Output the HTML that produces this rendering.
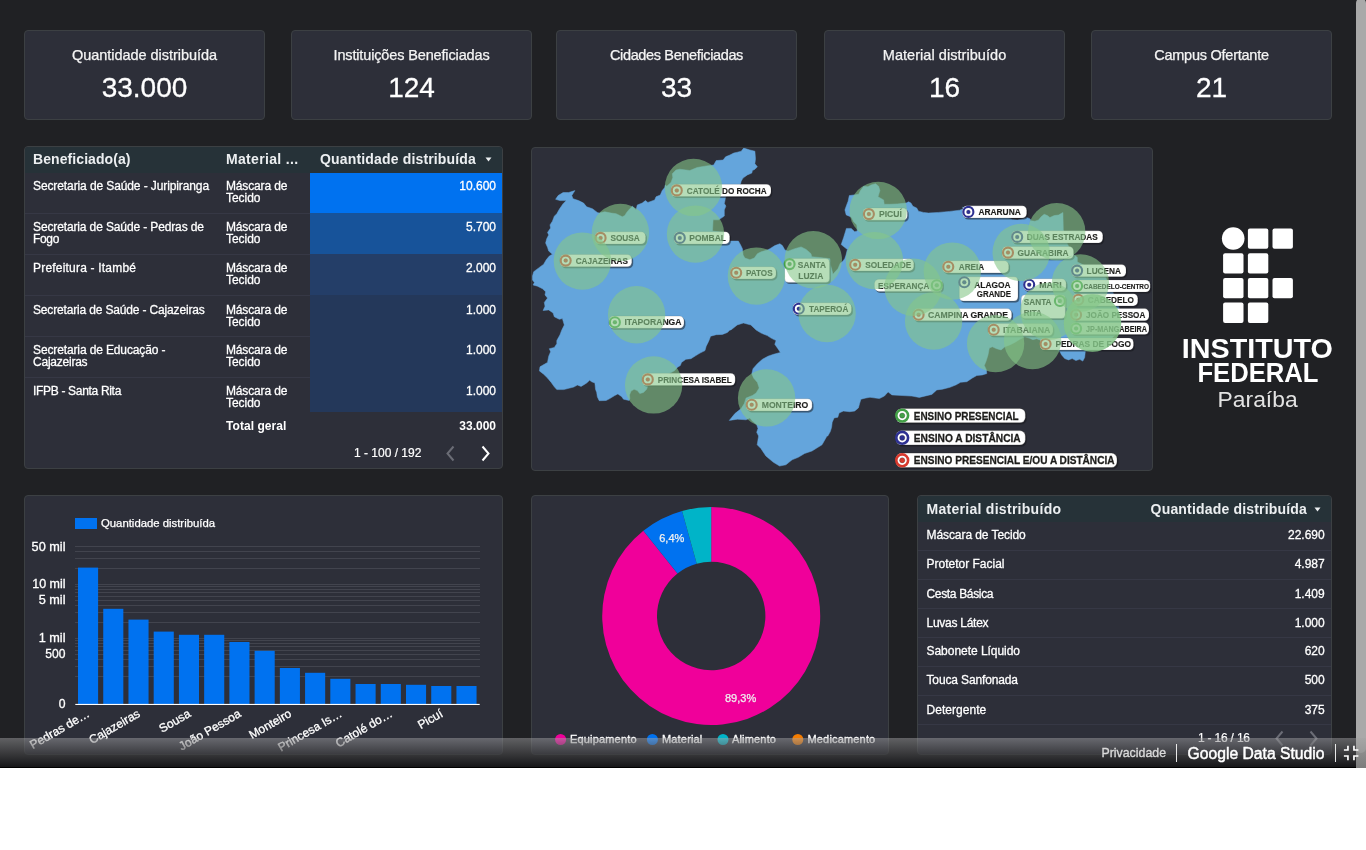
<!DOCTYPE html><html lang="pt-BR"><head><meta charset="utf-8"><title>IFPB - Painel de doações</title><style>
*{box-sizing:border-box;margin:0;padding:0}
html,body{width:1366px;height:850px;overflow:hidden;background:#fff;font-family:"Liberation Sans",sans-serif;}
#dash{position:absolute;left:0;top:0;width:1366px;height:768px;background:#202124;overflow:hidden}
.card{position:absolute;background:#2d2f39;border:1px solid #3c4043;border-radius:4px;overflow:hidden}
.kpi .t{position:absolute;left:0;right:0;top:16px;text-align:center;color:#f4f4f4;font-size:14.5px;line-height:16px;letter-spacing:-0.05px;-webkit-text-stroke:.25px #f4f4f4}
.kpi .v{position:absolute;left:0;right:0;top:41px;text-align:center;color:#fff;font-size:28px;line-height:32px;-webkit-text-stroke:.3px #fff}
#sb{position:absolute;left:1356px;top:-2px;width:10px;height:770px;background:#a9a9a9;border-radius:5px 5px 0 0}
#bar{position:absolute;left:0;top:738px;width:1366px;height:30px;border-bottom:1px solid #000;background:linear-gradient(to bottom,rgba(169,169,171,.47) 0%,rgba(21,21,23,.9) 100%)}
svg{position:absolute;left:0;top:0;overflow:visible}
svg text{font-family:"Liberation Sans",sans-serif}
</style></head><body>
<div id="dash">
<div class="card kpi" style="left:24px;top:30px;width:241px;height:90px"><div class="t" style="letter-spacing:-0.041px">Quantidade distribuída</div><div class="v">33.000</div></div>
<div class="card kpi" style="left:291px;top:30px;width:241px;height:90px"><div class="t" style="letter-spacing:-0.144px">Instituições Beneficiadas</div><div class="v">124</div></div>
<div class="card kpi" style="left:556px;top:30px;width:241px;height:90px"><div class="t" style="letter-spacing:-0.363px">Cidades Beneficiadas</div><div class="v">33</div></div>
<div class="card kpi" style="left:824px;top:30px;width:241px;height:90px"><div class="t" style="letter-spacing:0.05px">Material distribuído</div><div class="v">16</div></div>
<div class="card kpi" style="left:1091px;top:30px;width:241px;height:90px"><div class="t" style="letter-spacing:-0.249px">Campus Ofertante</div><div class="v">21</div></div>
<style>#t1{left:24px;top:146px;width:479px;height:323px;color:#fff;font-size:12px;line-height:12px}#t1 .h{position:absolute;left:0;top:0;width:479px;height:26px;background:#263238;font-weight:700;font-size:14px;line-height:16px;color:#eceff1}#t1 .h span{position:absolute;top:4px;white-space:nowrap}#t1 .r{position:absolute;left:0;width:479px;border-top:1px solid #363845}#t1 .r div{position:absolute;top:6px;white-space:nowrap;-webkit-text-stroke:.28px #fff}#t1 .q{left:285px;top:-1px !important;width:193px;text-align:right;padding:7px 7px 0 0}</style><div class="card" id="t1"><div class="h"><span style="left:8px;letter-spacing:0.081px">Beneficiado(a)</span><span style="left:201px;letter-spacing:0.328px">Material ...</span><span style="left:295px;letter-spacing:0.161px">Quantidade distribuída</span><svg style="left:460px;top:10px" width="8" height="6"><path d="M0.5 0.5h6l-3 4z" fill="#eceff1"/></svg></div><div class="r" style="top:26px;height:40px;border-top-color:transparent"><div style="left:8px;top:6px"><span style="letter-spacing:-0.104px">Secretaria de Saúde - Juripiranga</span></div><div style="left:201px;top:6px"><span style="letter-spacing:-0.15px">Máscara de</span><br><span style="letter-spacing:-0.048px">Tecido</span></div><div class="q" style="background:#0072f0;height:40px;padding-top:7px">10.600</div></div><div class="r" style="top:66px;height:41px"><div style="left:8px;top:7px"><span style="letter-spacing:-0.128px">Secretaria de Saúde - Pedras de</span><br><span style="letter-spacing:-0.34px">Fogo</span></div><div style="left:201px;top:7px"><span style="letter-spacing:-0.15px">Máscara de</span><br><span style="letter-spacing:-0.048px">Tecido</span></div><div class="q" style="background:#17539a;height:41px;padding-top:8px">5.700</div></div><div class="r" style="top:107px;height:41px"><div style="left:8px;top:7px"><span style="letter-spacing:0.201px">Prefeitura - Itambé</span></div><div style="left:201px;top:7px"><span style="letter-spacing:-0.15px">Máscara de</span><br><span style="letter-spacing:-0.048px">Tecido</span></div><div class="q" style="background:#243e68;height:41px;padding-top:8px">2.000</div></div><div class="r" style="top:148px;height:41px"><div style="left:8px;top:8px"><span style="letter-spacing:-0.161px">Secretaria de Saúde - Cajazeiras</span></div><div style="left:201px;top:8px"><span style="letter-spacing:-0.15px">Máscara de</span><br><span style="letter-spacing:-0.048px">Tecido</span></div><div class="q" style="background:#24385a;height:41px;padding-top:9px">1.000</div></div><div class="r" style="top:189px;height:41px"><div style="left:8px;top:7px"><span style="letter-spacing:-0.126px">Secretaria de Educação -</span><br><span style="letter-spacing:-0.23px">Cajazeiras</span></div><div style="left:201px;top:7px"><span style="letter-spacing:-0.15px">Máscara de</span><br><span style="letter-spacing:-0.048px">Tecido</span></div><div class="q" style="background:#24385a;height:41px;padding-top:8px">1.000</div></div><div class="r" style="top:230px;height:35px"><div style="left:8px;top:7px"><span style="letter-spacing:-0.316px">IFPB - Santa Rita</span></div><div style="left:201px;top:7px"><span style="letter-spacing:-0.15px">Máscara de</span><br><span style="letter-spacing:-0.048px">Tecido</span></div><div class="q" style="background:#24385a;height:35px;padding-top:8px">1.000</div></div><div style="position:absolute;left:201px;top:273px;font-weight:700"><span style="letter-spacing:0.055px">Total geral</span></div><div style="position:absolute;left:285px;width:186px;top:273px;font-weight:700;text-align:right">33.000</div><div style="position:absolute;left:329px;top:300px;white-space:nowrap;-webkit-text-stroke:.2px #fff">1 - 100 / 192</div><svg style="left:415px;top:296px" width="70" height="22"><path d="M13.500 3.500l-6 7 6 7" fill="none" stroke="#6a6c75" stroke-width="2"/><path d="M42.500 3.500l6 7-6 7" fill="none" stroke="#fff" stroke-width="2"/></svg></div>
<div class="card" style="left:531px;top:147px;width:622px;height:324px"></div><svg width="1366" height="768" viewBox="0 0 1366 768"><defs><clipPath id="mc"><rect x="532" y="148" width="620" height="322" rx="3"/></clipPath></defs><g clip-path="url(#mc)"><path d="M532.5 276.0L533.7 271.7L538.7 267.9L543.7 264.2L546.2 259.8L549.3 256.1L552.4 254.2L548.7 251.1L547.5 247.3L545.6 243.0L546.8 238.6L548.7 234.9L547.5 232.4L550.6 228.0L550.0 224.9L552.4 221.2L554.3 216.2L556.8 213.7L559.3 209.3L563.1 203.7L566.2 200.6L559.9 200.6L555.6 199.3L558.1 195.6L563.1 192.5L568.7 192.5L574.9 190.6L571.8 195.6L573.0 198.7L578.6 200.6L583.6 203.1L586.7 206.8L592.4 208.7L597.3 212.4L599.2 213.1L604.8 211.8L611.1 213.1L616.1 213.7L619.8 215.5L622.3 216.8L624.8 215.5L626.7 212.4L629.8 208.7L632.5 206.2L636.0 209.9L637.3 204.9L642.2 203.1L645.4 200.6L647.9 202.4L654.7 200.0L656.0 196.8L660.3 195.0L662.2 190.6L664.7 187.5L665.3 185.0L666.8 186.2L671.0 182.4L672.8 177.5L672.3 173.7L676.0 170.0L679.8 169.2L689.8 170.5L697.2 167.5L704.7 166.2L713.7 165.0L716.2 160.6L723.1 160.0L725.6 156.8L729.9 155.0L733.7 153.1L737.4 152.2L741.2 151.2L743.7 148.1L749.9 150.0L754.9 151.2L755.5 158.7L754.9 163.7L757.4 166.8L754.9 169.3L752.4 170.6L751.8 173.1L747.4 174.9L743.0 178.1L741.2 181.2L740.5 183.9L725.6 196.8L724.9 201.1L724.3 203.6L725.9 206.1L724.3 209.9L724.3 216.1L720.6 218.6L718.7 219.8L713.1 219.8L712.5 231.1L723.7 232.3L729.7 241.1L738.4 241.1L740.6 245.0L742.4 248.7L743.1 255.0L744.9 258.1L749.9 259.7L754.3 258.1L757.4 253.7L761.2 251.8L767.4 250.0L769.9 248.7L774.9 245.6L779.9 243.7L782.4 245.6L784.9 250.0L788.0 251.2L794.8 248.7L801.1 246.9L806.1 249.4L811.0 253.7L811.7 256.8L819.8 257.5L829.8 258.7L830.4 264.9L832.2 271.2L832.9 274.3L837.9 268.7L840.4 263.1L842.8 261.2L844.7 258.7L846.0 255.0L847.2 250.0L847.7 249.8L841.2 244.6L843.7 237.3L846.4 228.4L851.2 228.4L854.7 231.7L857.4 230.9L856.8 224.9L853.7 221.8L851.8 218.0L850.6 216.8L846.2 214.9L844.9 209.9L846.2 206.2L848.1 201.2L849.3 195.6L854.3 194.9L858.7 194.3L860.5 190.6L863.7 186.2L868.0 186.8L871.1 185.0L875.5 183.7L878.6 186.2L879.9 190.6L878.0 196.8L883.6 199.9L884.2 204.3L889.8 204.3L897.3 203.9L906.1 203.1L908.6 201.8L911.0 203.1L912.9 206.2L916.7 208.0L918.5 211.2L923.5 212.4L928.5 213.0L938.5 212.4L949.7 211.4L959.7 210.2L963.4 208.7L962.5 207.2L1009.9 218.4L1012.4 219.6L1017.3 220.0L1023.6 218.7L1026.7 217.5L1029.8 218.7L1030.7 220.0L1029.9 220.6L1034.9 221.2L1038.6 220.0L1041.1 216.8L1044.2 214.3L1047.4 215.6L1049.9 217.5L1054.2 215.6L1058.6 215.0L1062.9 212.5L1063.3 229.9L1067.3 243.7L1072.3 253.6L1077.3 257.4L1077.3 262.4L1077.3 262.0L1090.0 268.0L1105.0 276.0L1112.0 290.0L1118.0 305.0L1122.0 318.0L1118.0 332.0L1105.0 345.0L1090.0 350.0L1085.3 351.2L1084.7 357.4L1082.8 361.1L1079.7 359.3L1075.9 360.5L1072.2 358.6L1068.5 359.9L1064.7 358.6L1061.6 354.9L1059.7 351.2L1039.8 339.9L1036.7 338.7L1032.9 339.7L1029.2 338.1L1024.8 336.8L1019.8 339.3L1014.8 342.4L1009.8 344.9L1004.9 346.8L1001.1 349.9L996.7 348.7L992.4 346.8L989.3 348.0L988.0 354.9L986.1 361.1L984.3 365.5L986.4 369.9L986.8 373.6L982.4 374.9L976.8 375.5L972.4 378.0L966.8 381.7L960.6 382.3L956.2 384.8L950.0 387.3L942.5 389.2L936.8 389.9L931.8 394.4L919.3 397.4L911.9 396.1L891.9 394.9L888.1 391.9L884.4 396.1L879.4 398.6L870.0 397.3L865.9 398.0L860.9 399.2L859.6 403.6L858.4 407.9L854.7 411.1L849.7 411.7L843.4 411.1L839.1 412.9L837.8 417.3L834.1 417.9L832.2 422.3L831.6 427.3L830.3 431.6L827.8 436.0L827.0 436.0L822.0 444.8L812.0 451.0L804.6 453.5L798.3 457.3L792.1 459.8L785.9 464.8L779.6 466.0L773.4 462.3L765.9 456.0L760.9 448.5L757.2 444.8L758.4 437.3L758.6 436.0L756.7 432.3L758.0 428.5L756.7 424.8L751.8 420.4L749.9 417.9L746.1 419.8L737.4 419.2L729.3 420.4L734.9 413.6L741.2 408.6L744.3 403.6L746.1 398.0L752.4 395.5L756.1 393.0L759.2 388.0L757.4 382.4L753.6 378.0L751.8 373.7L753.0 368.7L757.4 363.7L762.4 359.3L768.0 356.2L773.6 354.3L780.4 352.4L777.9 348.7L774.8 344.3L776.1 340.6L771.1 338.1L767.3 335.6L761.1 333.1L756.1 330.0L750.9 325.0L743.4 323.0L737.2 325.0L730.9 330.0L729.9 330.0L727.4 332.5L722.4 334.4L716.2 334.7L710.6 336.2L708.7 341.2L706.2 346.2L705.0 350.6L700.0 353.1L695.9 355.6L690.9 358.7L685.9 359.3L681.5 362.4L680.3 365.6L677.2 367.4L674.7 370.6L647.9 385.5L646.6 389.3L643.5 392.4L639.8 393.6L637.3 390.5L634.1 389.3L631.0 391.1L629.5 394.9L629.8 398.6L629.2 400.5L623.5 399.2L621.7 396.7L617.9 393.9L614.8 395.5L609.8 398.6L606.1 400.5L599.2 400.7L597.3 396.7L596.7 392.4L595.5 389.3L594.9 383.0L591.7 381.8L589.6 380.2L586.7 383.0L583.6 384.9L581.1 386.4L577.4 385.1L573.7 387.1L569.9 388.0L563.7 389.6L556.8 389.6L554.3 386.8L551.2 382.4L547.5 378.0L543.7 374.3L539.4 370.9L540.0 366.8L544.3 364.3L547.5 362.4L548.7 356.2L550.6 351.8L549.3 348.7L554.3 347.5L556.8 343.7L556.8 340.5L559.9 334.9L561.8 329.9L564.3 324.9L562.4 318.6L559.3 319.3L554.3 316.8L553.1 313.0L548.7 309.9L543.1 310.5L545.0 306.2L544.3 302.4L547.5 298.1L545.0 294.9L545.6 291.8L542.5 288.7L537.5 286.2L533.1 285.0L534.4 282.5L532.5 280.0Z" fill="#64a5dc" stroke="#64a5dc" stroke-width="0.5" stroke-linejoin="round"/><g font-weight="700" fill="#1d1d1b" font-size="9.600" stroke="#1d1d1b" stroke-width=".15"><rect x="672.3" y="185.8" width="100.0" height="12.2" rx="4.5" fill="#14151b" opacity=".5"/><rect x="671.0" y="184.3" width="100.0" height="12.2" rx="4.5" fill="#fff"/><circle cx="676.8" cy="190.4" r="5.0" fill="#fff" stroke="#d8392d" stroke-width="2.1"/><circle cx="676.8" cy="190.4" r="2.0" fill="#d8392d"/><text x="686.8" y="193.6" textLength="79.8" lengthAdjust="spacingAndGlyphs">CATOLÉ DO ROCHA</text><rect x="596.3" y="233.3" width="50.6" height="12.2" rx="4.5" fill="#14151b" opacity=".5"/><rect x="595.0" y="231.8" width="50.6" height="12.2" rx="4.5" fill="#fff"/><circle cx="600.6" cy="237.9" r="5.0" fill="#fff" stroke="#d8392d" stroke-width="2.1"/><circle cx="600.6" cy="237.9" r="2.0" fill="#d8392d"/><text x="610.4" y="241.1" textLength="29.4" lengthAdjust="spacingAndGlyphs">SOUSA</text><rect x="675.3" y="233.3" width="55.7" height="12.2" rx="4.5" fill="#14151b" opacity=".5"/><rect x="674.0" y="231.8" width="55.7" height="12.2" rx="4.5" fill="#fff"/><circle cx="679.8" cy="237.9" r="5.0" fill="#fff" stroke="#2e3192" stroke-width="2.1"/><circle cx="679.8" cy="237.9" r="2.0" fill="#2e3192"/><text x="689.3" y="241.1" textLength="36.7" lengthAdjust="spacingAndGlyphs">POMBAL</text><rect x="561.3" y="256.0" width="71.8" height="12.2" rx="4.5" fill="#14151b" opacity=".5"/><rect x="560.0" y="254.5" width="71.8" height="12.2" rx="4.5" fill="#fff"/><circle cx="565.7" cy="260.6" r="5.0" fill="#fff" stroke="#d8392d" stroke-width="2.1"/><circle cx="565.7" cy="260.6" r="2.0" fill="#d8392d"/><text x="575.7" y="263.8" textLength="52.2" lengthAdjust="spacingAndGlyphs">CAJAZEIRAS</text><rect x="731.8" y="268.2" width="45.5" height="12.2" rx="4.5" fill="#14151b" opacity=".5"/><rect x="730.5" y="266.7" width="45.5" height="12.2" rx="4.5" fill="#fff"/><circle cx="736.2" cy="272.8" r="5.0" fill="#fff" stroke="#d8392d" stroke-width="2.1"/><circle cx="736.2" cy="272.8" r="2.0" fill="#d8392d"/><text x="745.9" y="276.0" textLength="26.7" lengthAdjust="spacingAndGlyphs">PATOS</text><rect x="794.3" y="304.2" width="58.5" height="12.2" rx="4.5" fill="#14151b" opacity=".5"/><rect x="793.0" y="302.7" width="58.5" height="12.2" rx="4.5" fill="#fff"/><circle cx="798.8" cy="308.8" r="5.0" fill="#fff" stroke="#2e3192" stroke-width="2.1"/><circle cx="798.8" cy="308.8" r="2.0" fill="#2e3192"/><text x="809.1" y="312.0" textLength="39.2" lengthAdjust="spacingAndGlyphs">TAPEROÁ</text><rect x="610.3" y="317.6" width="75.0" height="12.2" rx="4.5" fill="#14151b" opacity=".5"/><rect x="609.0" y="316.1" width="75.0" height="12.2" rx="4.5" fill="#fff"/><circle cx="614.9" cy="322.2" r="5.0" fill="#fff" stroke="#43a047" stroke-width="2.1"/><circle cx="614.9" cy="322.2" r="2.0" fill="#43a047"/><text x="624.4" y="325.4" textLength="57.1" lengthAdjust="spacingAndGlyphs">ITAPORANGA</text><rect x="643.3" y="374.8" width="93.2" height="12.2" rx="4.5" fill="#14151b" opacity=".5"/><rect x="642.0" y="373.3" width="93.2" height="12.2" rx="4.5" fill="#fff"/><circle cx="647.8" cy="379.4" r="5.0" fill="#fff" stroke="#d8392d" stroke-width="2.1"/><circle cx="647.8" cy="379.4" r="2.0" fill="#d8392d"/><text x="657.8" y="382.6" textLength="73.9" lengthAdjust="spacingAndGlyphs">PRINCESA ISABEL</text><rect x="747.3" y="400.2" width="66.1" height="12.2" rx="4.5" fill="#14151b" opacity=".5"/><rect x="746.0" y="398.7" width="66.1" height="12.2" rx="4.5" fill="#fff"/><circle cx="751.7" cy="404.8" r="5.0" fill="#fff" stroke="#d8392d" stroke-width="2.1"/><circle cx="751.7" cy="404.8" r="2.0" fill="#d8392d"/><text x="761.7" y="408.0" textLength="46.6" lengthAdjust="spacingAndGlyphs">MONTEIRO</text><rect x="864.3" y="209.5" width="44.4" height="12.2" rx="4.5" fill="#14151b" opacity=".5"/><rect x="863.0" y="208.0" width="44.4" height="12.2" rx="4.5" fill="#fff"/><circle cx="868.9" cy="214.1" r="5.0" fill="#fff" stroke="#d8392d" stroke-width="2.1"/><circle cx="868.9" cy="214.1" r="2.0" fill="#d8392d"/><text x="878.9" y="217.3" textLength="23.0" lengthAdjust="spacingAndGlyphs">PICUÍ</text><rect x="963.8" y="207.3" width="64.2" height="12.2" rx="4.5" fill="#14151b" opacity=".5"/><rect x="962.5" y="205.8" width="64.2" height="12.2" rx="4.5" fill="#fff"/><circle cx="968.4" cy="211.9" r="5.0" fill="#fff" stroke="#2e3192" stroke-width="2.1"/><circle cx="968.4" cy="211.9" r="2.0" fill="#2e3192"/><text x="978.4" y="215.1" textLength="42.4" lengthAdjust="spacingAndGlyphs">ARARUNA</text><rect x="1012.8" y="232.3" width="91.3" height="12.2" rx="4.5" fill="#14151b" opacity=".5"/><rect x="1011.5" y="230.8" width="91.3" height="12.2" rx="4.5" fill="#fff"/><circle cx="1017.2" cy="236.9" r="5.0" fill="#fff" stroke="#2e3192" stroke-width="2.1"/><circle cx="1017.2" cy="236.9" r="2.0" fill="#2e3192"/><text x="1026.7" y="240.1" textLength="71.1" lengthAdjust="spacingAndGlyphs">DUAS ESTRADAS</text><rect x="1003.3" y="248.0" width="71.6" height="12.2" rx="4.5" fill="#14151b" opacity=".5"/><rect x="1002.0" y="246.5" width="71.6" height="12.2" rx="4.5" fill="#fff"/><circle cx="1008" cy="252.6" r="5.0" fill="#fff" stroke="#d8392d" stroke-width="2.1"/><circle cx="1008" cy="252.6" r="2.0" fill="#d8392d"/><text x="1017.4" y="255.8" textLength="51.2" lengthAdjust="spacingAndGlyphs">GUARABIRA</text><rect x="850.8" y="260.2" width="64.3" height="12.2" rx="4.5" fill="#14151b" opacity=".5"/><rect x="849.5" y="258.7" width="64.3" height="12.2" rx="4.5" fill="#fff"/><circle cx="855.2" cy="264.8" r="5.0" fill="#fff" stroke="#d8392d" stroke-width="2.1"/><circle cx="855.2" cy="264.8" r="2.0" fill="#d8392d"/><text x="865.2" y="268.0" textLength="46.1" lengthAdjust="spacingAndGlyphs">SOLEDADE</text><rect x="943.8" y="262.2" width="66.2" height="12.2" rx="4.5" fill="#14151b" opacity=".5"/><rect x="942.5" y="260.7" width="66.2" height="12.2" rx="4.5" fill="#fff"/><circle cx="948.3" cy="266.8" r="5.0" fill="#fff" stroke="#d8392d" stroke-width="2.1"/><circle cx="948.3" cy="266.8" r="2.0" fill="#d8392d"/><text x="958.8" y="270.0" textLength="25.4" lengthAdjust="spacingAndGlyphs">AREIA</text><rect x="1024.8" y="280.2" width="42.6" height="12.2" rx="4.5" fill="#14151b" opacity=".5"/><rect x="1023.5" y="278.7" width="42.6" height="12.2" rx="4.5" fill="#fff"/><circle cx="1029.2" cy="284.8" r="5.0" fill="#fff" stroke="#2e3192" stroke-width="2.1"/><circle cx="1029.2" cy="284.8" r="2.0" fill="#2e3192"/><text x="1039.2" y="288.0" textLength="22.4" lengthAdjust="spacingAndGlyphs">MARI</text><rect x="1072.8" y="266.0" width="54.5" height="12.2" rx="4.5" fill="#14151b" opacity=".5"/><rect x="1071.5" y="264.5" width="54.5" height="12.2" rx="4.5" fill="#fff"/><circle cx="1077.1" cy="270.6" r="5.0" fill="#fff" stroke="#2e3192" stroke-width="2.1"/><circle cx="1077.1" cy="270.6" r="2.0" fill="#2e3192"/><text x="1086.6" y="273.8" textLength="34.4" lengthAdjust="spacingAndGlyphs">LUCENA</text><rect x="1073.8" y="295.2" width="65.3" height="12.2" rx="4.5" fill="#14151b" opacity=".5"/><rect x="1072.5" y="293.7" width="65.3" height="12.2" rx="4.5" fill="#fff"/><circle cx="1078.3" cy="299.8" r="5.0" fill="#fff" stroke="#d8392d" stroke-width="2.1"/><circle cx="1078.3" cy="299.8" r="2.0" fill="#d8392d"/><text x="1087.8" y="303.0" textLength="46.2" lengthAdjust="spacingAndGlyphs">CABEDELO</text><rect x="1071.8" y="310.1" width="78.5" height="12.2" rx="4.5" fill="#14151b" opacity=".5"/><rect x="1070.5" y="308.6" width="78.5" height="12.2" rx="4.5" fill="#fff"/><circle cx="1076.1" cy="314.7" r="5.0" fill="#fff" stroke="#d8392d" stroke-width="2.1"/><circle cx="1076.1" cy="314.7" r="2.0" fill="#d8392d"/><text x="1086.1" y="317.9" textLength="59.2" lengthAdjust="spacingAndGlyphs">JOÃO PESSOA</text><rect x="1071.8" y="323.9" width="78.5" height="12.2" rx="4.5" fill="#14151b" opacity=".5"/><rect x="1070.5" y="322.4" width="78.5" height="12.2" rx="4.5" fill="#fff"/><circle cx="1076.1" cy="328.5" r="5.0" fill="#fff" stroke="#43a047" stroke-width="2.1"/><circle cx="1076.1" cy="328.5" r="2.0" fill="#43a047"/><text x="1086.1" y="331.7" textLength="60.9" lengthAdjust="spacingAndGlyphs">JP-MANGABEIRA</text><rect x="914.3" y="310.1" width="98.7" height="12.2" rx="4.5" fill="#14151b" opacity=".5"/><rect x="913.0" y="308.6" width="98.7" height="12.2" rx="4.5" fill="#fff"/><circle cx="918.6" cy="314.7" r="5.0" fill="#fff" stroke="#d8392d" stroke-width="2.1"/><circle cx="918.6" cy="314.7" r="2.0" fill="#d8392d"/><text x="928.1" y="317.9" textLength="79.9" lengthAdjust="spacingAndGlyphs">CAMPINA GRANDE</text><rect x="989.3" y="325.1" width="65.0" height="12.2" rx="4.5" fill="#14151b" opacity=".5"/><rect x="988.0" y="323.6" width="65.0" height="12.2" rx="4.5" fill="#fff"/><circle cx="993.7" cy="329.7" r="5.0" fill="#fff" stroke="#d8392d" stroke-width="2.1"/><circle cx="993.7" cy="329.7" r="2.0" fill="#d8392d"/><text x="1003.0" y="332.9" textLength="47.4" lengthAdjust="spacingAndGlyphs">ITABAIANA</text><rect x="1041.3" y="339.4" width="93.5" height="12.2" rx="4.5" fill="#14151b" opacity=".5"/><rect x="1040.0" y="337.9" width="93.5" height="12.2" rx="4.5" fill="#fff"/><circle cx="1045.6" cy="344" r="5.0" fill="#fff" stroke="#d8392d" stroke-width="2.1"/><circle cx="1045.6" cy="344" r="2.0" fill="#d8392d"/><text x="1055.4" y="347.2" textLength="75.6" lengthAdjust="spacingAndGlyphs">PEDRAS DE FOGO</text><rect x="785.9" y="259.9" width="45.0" height="24.0" rx="4" fill="#14151b" opacity=".5"/><rect x="784.6" y="258.4" width="45.0" height="24.0" rx="4" fill="#fff"/><circle cx="789.6" cy="264.1" r="5.0" fill="#fff" stroke="#43a047" stroke-width="2.1"/><circle cx="789.6" cy="264.1" r="2.0" fill="#43a047"/><text x="797.8" y="267.5" textLength="28.2" lengthAdjust="spacingAndGlyphs">SANTA</text><text x="798.3" y="278.8" textLength="25.0" lengthAdjust="spacingAndGlyphs">LUZIA</text><rect x="875.7" y="280.7" width="68.1" height="12.2" rx="4.5" fill="#14151b" opacity=".5"/><rect x="874.4" y="279.2" width="68.1" height="12.2" rx="4.5" fill="#fff"/><text x="878.1" y="288.5" textLength="51.2" lengthAdjust="spacingAndGlyphs">ESPERANÇA</text><circle cx="936.8" cy="285.3" r="5.0" fill="#fff" stroke="#43a047" stroke-width="2.1"/><circle cx="936.8" cy="285.3" r="2.0" fill="#43a047"/><rect x="960.6" y="278.3" width="58.7" height="24.2" rx="4" fill="#14151b" opacity=".5"/><rect x="959.3" y="276.8" width="58.7" height="24.2" rx="4" fill="#fff"/><circle cx="964.3" cy="282.3" r="5.0" fill="#fff" stroke="#2e3192" stroke-width="2.1"/><circle cx="964.3" cy="282.3" r="2.0" fill="#2e3192"/><text x="974.3" y="287.5" textLength="36.2" lengthAdjust="spacingAndGlyphs">ALAGOA</text><text x="976.8" y="297.3" textLength="34.2" lengthAdjust="spacingAndGlyphs">GRANDE</text><rect x="1022.5" y="296.3" width="44.2" height="23.7" rx="4" fill="#14151b" opacity=".5"/><rect x="1021.2" y="294.8" width="44.2" height="23.7" rx="4" fill="#fff"/><text x="1023.7" y="304.5" textLength="27.9" lengthAdjust="spacingAndGlyphs">SANTA</text><text x="1023.7" y="315.5" textLength="18.0" lengthAdjust="spacingAndGlyphs">RITA</text><circle cx="1059.9" cy="301" r="5.0" fill="#fff" stroke="#43a047" stroke-width="2.1"/><circle cx="1059.9" cy="301" r="2.0" fill="#43a047"/><rect x="1072.8" y="281.4" width="78.7" height="12.2" rx="4.5" fill="#14151b" opacity=".5"/><rect x="1071.5" y="279.9" width="78.7" height="12.2" rx="4.5" fill="#fff"/><circle cx="1077.1" cy="286" r="5.0" fill="#fff" stroke="#43a047" stroke-width="2.1"/><circle cx="1077.1" cy="286" r="2.0" fill="#43a047"/><text x="1083.6" y="288.8" textLength="65.4" lengthAdjust="spacingAndGlyphs" font-size="8">CABEDELO-CENTRO</text></g><g fill="#85c689" fill-opacity=".6"><circle cx="693.5" cy="187.4" r="28.7"/><circle cx="620.4" cy="232.4" r="28.7"/><circle cx="695.5" cy="234.1" r="28.7"/><circle cx="582.4" cy="261.1" r="28.7"/><circle cx="756.4" cy="276.1" r="28.7"/><circle cx="813.3" cy="259.8" r="28.7"/><circle cx="827.1" cy="313.5" r="28.7"/><circle cx="636.6" cy="314.7" r="28.7"/><circle cx="653.6" cy="384.9" r="28.7"/><circle cx="766.6" cy="397.9" r="28.7"/><circle cx="878.2" cy="210.4" r="28.7"/><circle cx="874.4" cy="260.6" r="28.7"/><circle cx="913.1" cy="287.3" r="28.7"/><circle cx="952.3" cy="271.1" r="28.7"/><circle cx="933.6" cy="321" r="28.7"/><circle cx="1021.2" cy="252.4" r="28.7"/><circle cx="1056.7" cy="231.8" r="28.7"/><circle cx="1080.4" cy="283" r="28.7"/><circle cx="1048.9" cy="311.2" r="28.7"/><circle cx="1032.6" cy="340.5" r="28.7"/><circle cx="995.6" cy="343.6" r="28.7"/><circle cx="1092.5" cy="323" r="28.7"/><circle cx="1092.5" cy="323" r="28.7"/></g><g font-weight="700" fill="#1d1d1b" font-size="11.800" stroke="#1d1d1b" stroke-width=".3"><rect x="897.3" y="409.9" width="129.4" height="14.4" rx="5.5" fill="#14151b" opacity=".5"/><rect x="896.0" y="408.4" width="129.4" height="14.4" rx="5.5" fill="#fff"/><circle cx="902.2" cy="415.6" r="5.9" fill="#fff" stroke="#43a047" stroke-width="2.6"/><circle cx="902.2" cy="415.6" r="2.6" fill="#43a047"/><text x="913.8" y="419.7" textLength="104.9" lengthAdjust="spacingAndGlyphs">ENSINO PRESENCIAL</text><rect x="897.3" y="432.1" width="129.4" height="14.4" rx="5.5" fill="#14151b" opacity=".5"/><rect x="896.0" y="430.6" width="129.4" height="14.4" rx="5.5" fill="#fff"/><circle cx="902.2" cy="437.8" r="5.9" fill="#fff" stroke="#2e3192" stroke-width="2.6"/><circle cx="902.2" cy="437.8" r="2.6" fill="#2e3192"/><text x="913.8" y="441.9" textLength="106.9" lengthAdjust="spacingAndGlyphs">ENSINO A DISTÂNCIA</text><rect x="897.3" y="454.6" width="221.0" height="14.4" rx="5.5" fill="#14151b" opacity=".5"/><rect x="896.0" y="453.1" width="221.0" height="14.4" rx="5.5" fill="#fff"/><circle cx="902.2" cy="460.3" r="5.9" fill="#fff" stroke="#d8392d" stroke-width="2.6"/><circle cx="902.2" cy="460.3" r="2.6" fill="#d8392d"/><text x="913.8" y="464.4" textLength="200.7" lengthAdjust="spacingAndGlyphs">ENSINO PRESENCIAL E/OU A DISTÂNCIA</text></g></g></svg>
<svg width="1366" height="768" viewBox="0 0 1366 768" style="pointer-events:none"><g fill="#fff"><circle cx="1233.2" cy="238.5" r="11.3"/><rect x="1247.9" y="228.4" width="20.4" height="20.4" rx="2"/><rect x="1272.5" y="228.4" width="20.4" height="20.4" rx="2"/><rect x="1223.1" y="253.2" width="20.4" height="20.4" rx="2"/><rect x="1247.9" y="253.2" width="20.4" height="20.4" rx="2"/><rect x="1223.1" y="277.9" width="20.4" height="20.4" rx="2"/><rect x="1247.9" y="277.9" width="20.4" height="20.4" rx="2"/><rect x="1272.5" y="277.9" width="20.4" height="20.4" rx="2"/><rect x="1223.1" y="302.5" width="20.4" height="20.4" rx="2"/><rect x="1247.9" y="302.5" width="20.4" height="20.4" rx="2"/></g><text x="1257.3" y="357.8" text-anchor="middle" font-size="27" font-weight="700" fill="#fff" textLength="151" lengthAdjust="spacingAndGlyphs">INSTITUTO</text><text x="1257.9" y="381.9" text-anchor="middle" font-size="27" font-weight="700" fill="#fff" textLength="121" lengthAdjust="spacingAndGlyphs">FEDERAL</text><text x="1257.6" y="407" text-anchor="middle" font-size="21.5" fill="#e2e2e2" textLength="80" lengthAdjust="spacingAndGlyphs">Paraíba</text></svg>
<div class="card" style="left:24px;top:495px;width:479px;height:260px"></div>
<svg width="1366" height="768" viewBox="0 0 1366 768"><g stroke="#42444e" stroke-width="1" shape-rendering="crispEdges"><line x1="75.3" x2="479.7" y1="676.5" y2="676.5"/><line x1="75.3" x2="479.7" y1="666.5" y2="666.5"/><line x1="75.3" x2="479.7" y1="659.5" y2="659.5"/><line x1="75.3" x2="479.7" y1="654.5" y2="654.5"/><line x1="75.3" x2="479.7" y1="650.5" y2="650.5"/><line x1="75.3" x2="479.7" y1="646.5" y2="646.5"/><line x1="75.3" x2="479.7" y1="643.5" y2="643.5"/><line x1="75.3" x2="479.7" y1="640.5" y2="640.5"/><line x1="75.3" x2="479.7" y1="638.5" y2="638.5"/><line x1="75.3" x2="479.7" y1="622.5" y2="622.5"/><line x1="75.3" x2="479.7" y1="612.5" y2="612.5"/><line x1="75.3" x2="479.7" y1="605.5" y2="605.5"/><line x1="75.3" x2="479.7" y1="600.5" y2="600.5"/><line x1="75.3" x2="479.7" y1="596.5" y2="596.5"/><line x1="75.3" x2="479.7" y1="592.5" y2="592.5"/><line x1="75.3" x2="479.7" y1="589.5" y2="589.5"/><line x1="75.3" x2="479.7" y1="586.5" y2="586.5"/><line x1="75.3" x2="479.7" y1="584.5" y2="584.5"/><line x1="75.3" x2="479.7" y1="568.5" y2="568.5"/><line x1="75.3" x2="479.7" y1="558.5" y2="558.5"/><line x1="75.3" x2="479.7" y1="551.5" y2="551.5"/><line x1="75.3" x2="479.7" y1="546.5" y2="546.5"/></g><rect x="75" y="518" width="22" height="11" fill="#0072f0"/><text x="101" y="527" font-size="11" fill="#fff" stroke="#fff" stroke-width=".25" textLength="114" lengthAdjust="spacingAndGlyphs">Quantidade distribuída</text><text x="31.6" y="551.0999999999999" font-size="12" fill="#fff" stroke="#fff" stroke-width=".3" textLength="33.9" lengthAdjust="spacingAndGlyphs">50 mil</text><text x="32.2" y="588.3" font-size="12" fill="#fff" stroke="#fff" stroke-width=".3" textLength="33.3" lengthAdjust="spacingAndGlyphs">10 mil</text><text x="38.7" y="604.3" font-size="12" fill="#fff" stroke="#fff" stroke-width=".3" textLength="26.8" lengthAdjust="spacingAndGlyphs">5 mil</text><text x="38.7" y="642.3" font-size="12" fill="#fff" stroke="#fff" stroke-width=".3" textLength="26.8" lengthAdjust="spacingAndGlyphs">1 mil</text><text x="45.3" y="658.3" font-size="12" fill="#fff" stroke="#fff" stroke-width=".3" textLength="20.2" lengthAdjust="spacingAndGlyphs">500</text><text x="58.7" y="708.3" font-size="12" fill="#fff" stroke="#fff" stroke-width=".3" textLength="6.8" lengthAdjust="spacingAndGlyphs">0</text><g fill="#0072f0"><rect x="78.00" y="567.6" width="20.1" height="136.8"/><rect x="103.23" y="608.8" width="20.1" height="95.6"/><rect x="128.46" y="619.6" width="20.1" height="84.8"/><rect x="153.69" y="631.6" width="20.1" height="72.8"/><rect x="178.92" y="634.8" width="20.1" height="69.6"/><rect x="204.15" y="634.8" width="20.1" height="69.6"/><rect x="229.38" y="642.0" width="20.1" height="62.4"/><rect x="254.61" y="650.8" width="20.1" height="53.6"/><rect x="279.84" y="668.0" width="20.1" height="36.4"/><rect x="305.07" y="672.8" width="20.1" height="31.6"/><rect x="330.30" y="678.8" width="20.1" height="25.6"/><rect x="355.53" y="684.0" width="20.1" height="20.4"/><rect x="380.76" y="684.0" width="20.1" height="20.4"/><rect x="405.99" y="684.8" width="20.1" height="19.6"/><rect x="431.22" y="686.0" width="20.1" height="18.4"/><rect x="456.45" y="686.0" width="20.1" height="18.4"/></g><rect x="75.3" y="703.900" width="404.4" height="1.100" fill="#fff"/><text transform="translate(90.5,716) rotate(-30)" font-size="12" fill="#fff" stroke="#fff" stroke-width=".3" text-anchor="end">Pedras de…</text><text transform="translate(141.0,716) rotate(-30)" font-size="12" fill="#fff" stroke="#fff" stroke-width=".3" text-anchor="end">Cajazeiras</text><text transform="translate(191.5,716) rotate(-30)" font-size="12" fill="#fff" stroke="#fff" stroke-width=".3" text-anchor="end">Sousa</text><text transform="translate(241.9,716) rotate(-30)" font-size="12" fill="#fff" stroke="#fff" stroke-width=".3" text-anchor="end">João Pessoa</text><text transform="translate(292.4,716) rotate(-30)" font-size="12" fill="#fff" stroke="#fff" stroke-width=".3" text-anchor="end">Monteiro</text><text transform="translate(342.9,716) rotate(-30)" font-size="12" fill="#fff" stroke="#fff" stroke-width=".3" text-anchor="end">Princesa Is…</text><text transform="translate(393.3,716) rotate(-30)" font-size="12" fill="#fff" stroke="#fff" stroke-width=".3" text-anchor="end">Catolé do…</text><text transform="translate(443.8,716) rotate(-30)" font-size="12" fill="#fff" stroke="#fff" stroke-width=".3" text-anchor="end">Picuí</text></svg>
<div class="card" style="left:531px;top:495px;width:358px;height:260px"></div>
<svg width="1366" height="768" viewBox="0 0 1366 768"><path d="M711.20 507.00A109 109 0 1 1 643.35 530.70L677.46 573.58A54.2 54.2 0 1 0 711.20 561.80Z" fill="#f0009a"/><path d="M643.35 530.70A109 109 0 0 1 682.07 510.96L696.72 563.77A54.2 54.2 0 0 0 677.46 573.58Z" fill="#0072f0"/><path d="M682.07 510.96A109 109 0 0 1 711.20 507.00L711.20 561.80A54.2 54.2 0 0 0 696.72 563.77Z" fill="#00b4c8"/><text x="671.8" y="542" font-size="11" fill="#f0f0f0" stroke="#f0f0f0" stroke-width=".25" text-anchor="middle">6,4%</text><text x="740.6" y="702" font-size="11" fill="#f0f0f0" stroke="#f0f0f0" stroke-width=".25" text-anchor="middle">89,3%</text><circle cx="560.6" cy="739.500" r="5.500" fill="#f0009a"/><text x="570" y="743.300" font-size="11" fill="#fff" stroke="#fff" stroke-width=".3" letter-spacing=".17">Equipamento</text><circle cx="652.4" cy="739.500" r="5.500" fill="#0072f0"/><text x="662" y="743.300" font-size="11" fill="#fff" stroke="#fff" stroke-width=".3" letter-spacing=".17">Material</text><circle cx="723" cy="739.500" r="5.500" fill="#00b4c8"/><text x="732" y="743.300" font-size="11" fill="#fff" stroke="#fff" stroke-width=".3" letter-spacing=".17">Alimento</text><circle cx="797.8" cy="739.500" r="5.500" fill="#f57c00"/><text x="807.5" y="743.300" font-size="11" fill="#fff" stroke="#fff" stroke-width=".3" letter-spacing=".17">Medicamento</text></svg>
<style>#t2{left:917px;top:495px;width:415px;height:260px;color:#fff;font-size:12px;line-height:14px}#t2 .h{position:absolute;left:0;top:0;width:415px;height:26px;background:#263238;font-weight:700;font-size:14px;line-height:16px;color:#eceff1}#t2 .h span{position:absolute;top:5px;white-space:nowrap}#t2 .r{position:absolute;left:0;width:415px;height:29px;border-top:1px solid #363845}#t2 .r div{position:absolute;top:5px;white-space:nowrap;-webkit-text-stroke:.28px #fff}</style><div class="card" id="t2"><div class="h"><span style="left:8.500px;letter-spacing:0.284px">Material distribuído</span><span style="right:26px;letter-spacing:0.179px">Quantidade distribuída</span><svg style="left:396px;top:11px" width="8" height="6"><path d="M0.5 0.5h6l-3 4z" fill="#eceff1"/></svg></div><div class="r" style="top:26px;border-top-color:transparent"><div style="left:8.500px;top:5px"><span style="letter-spacing:-0.076px">Máscara de Tecido</span></div><div style="right:8.300px;top:5px">22.690</div></div><div class="r" style="top:54px"><div style="left:8.500px;top:6px"><span style="letter-spacing:-0.002px">Protetor Facial</span></div><div style="right:8.300px;top:6px">4.987</div></div><div class="r" style="top:83px"><div style="left:8.500px;top:7px"><span style="letter-spacing:-0.334px">Cesta Básica</span></div><div style="right:8.300px;top:7px">1.409</div></div><div class="r" style="top:112px"><div style="left:8.500px;top:7px"><span style="letter-spacing:-0.265px">Luvas Látex</span></div><div style="right:8.300px;top:7px">1.000</div></div><div class="r" style="top:141px"><div style="left:8.500px;top:6px"><span style="letter-spacing:-0.037px">Sabonete Líquido</span></div><div style="right:8.300px;top:6px">620</div></div><div class="r" style="top:170px"><div style="left:8.500px;top:6px"><span style="letter-spacing:-0.135px">Touca Sanfonada</span></div><div style="right:8.300px;top:6px">500</div></div><div class="r" style="top:199px"><div style="left:8.500px;top:7px"><span style="letter-spacing:0.033px">Detergente</span></div><div style="right:8.300px;top:7px">375</div></div><div class="r" style="top:228px"><div style="left:8.500px;top:15px"></div><div style="right:8.300px;top:15px"></div></div><div style="position:absolute;left:280px;top:235px;white-space:nowrap;letter-spacing:-.2px;-webkit-text-stroke:.2px #fff">1 - 16 / 16</div><svg style="left:350px;top:232px" width="70" height="22"><path d="M14.500 3.500l-6 7 6 7" fill="none" stroke="#6a6c75" stroke-width="2"/><path d="M42.500 3.500l6 7-6 7" fill="none" stroke="#6a6c75" stroke-width="2"/></svg></div>
<div id="sb"></div>
<div id="bar"></div>
<div style="position:absolute;left:1356px;top:738px;width:10px;height:30px;background:linear-gradient(to bottom,#9a9a9a,#7c7c7c)"></div>
<div style="position:absolute;left:1356px;top:738px;width:10px;height:14.500px;background:linear-gradient(to bottom,#a6a6a6,#989898);border-radius:0 0 5px 5px"></div>
<svg width="1366" height="768" viewBox="0 0 1366 768"><g fill="#fff"><text x="1101.500" y="757.200" font-size="13.400" fill="#dadada" stroke="#dadada" stroke-width=".35" textLength="64.500" lengthAdjust="spacingAndGlyphs">Privacidade</text><rect x="1176" y="744" width="1" height="18" fill="#e8e8e8"/><text x="1187.500" y="759.300" font-size="17.200" fill="#fff" stroke="#fff" stroke-width=".5" textLength="137" lengthAdjust="spacingAndGlyphs">Google Data Studio</text><rect x="1335" y="744" width="1" height="18" fill="#e8e8e8"/><path d="M1343.900 749.200h3.200v-3.400h1.700v5h-4.900zM1358.400 749.200h-3.600v-3.400h-1.700v5h5.300zM1343.900 756.800h3.200v3.500h1.700v-5.100h-4.900zM1358.400 756.800h-3.600v3.500h-1.700v-5.100h5.300z"/></g></svg>
</div></body></html>
